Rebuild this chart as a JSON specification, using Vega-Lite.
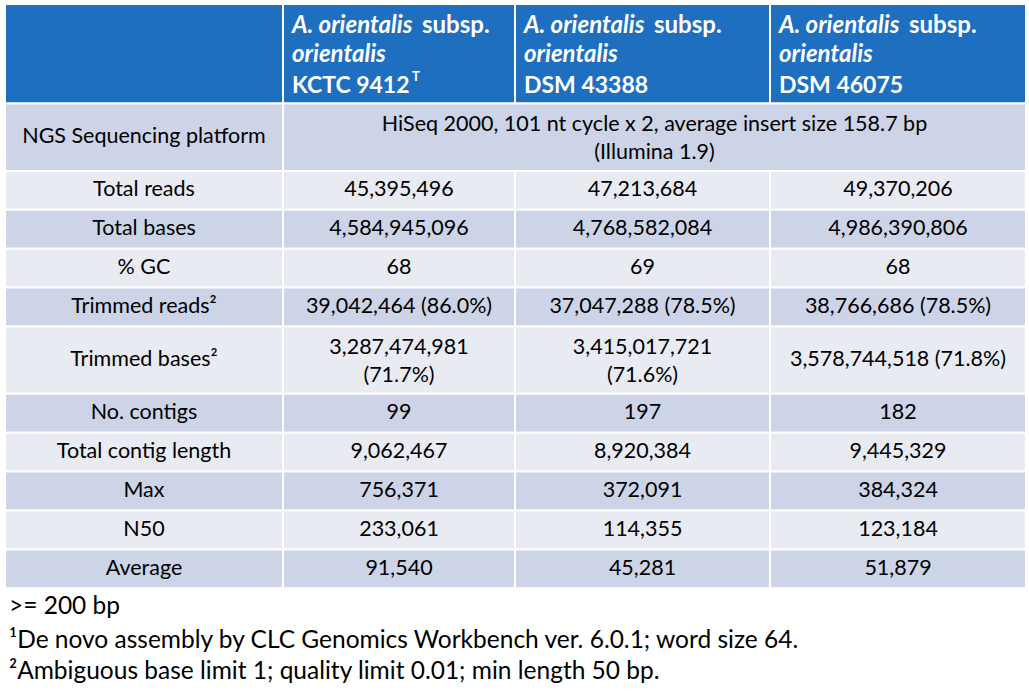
{
  "$schema": "https://vega.github.io/schema/vega-lite/v6.json",
  "width": 1029,
  "height": 691,
  "autosize": {"type": "fit", "contains": "padding"},
  "padding": 0,
  "background": "white",
  "config": {"view": {"stroke": null}, "font": "Lato"},
  "datasets": {
    "cols": [
      {"col": "c0", "x0": 5, "x1": 283},
      {"col": "c1", "x0": 283, "x1": 515},
      {"col": "c2", "x0": 515, "x1": 770},
      {"col": "c3", "x0": 770, "x1": 1026},
      {"col": "c123", "x0": 283, "x1": 1026},
      {"col": "fn", "x0": 9, "x1": 1026}
    ],
    "rows": [
      {"row": "head", "y0": 0, "y1": 2.56, "shade": "h"},
      {"row": "h1", "y0": 0.36, "y1": 0.76, "shade": "n"},
      {"row": "h2", "y0": 1.12, "y1": 1.52, "shade": "n"},
      {"row": "h3", "y0": 1.9, "y1": 2.3, "shade": "n"},
      {"row": "ngs", "y0": 2.56, "y1": 4.29, "shade": "d"},
      {"row": "tr", "y0": 4.29, "y1": 5.29, "shade": "l"},
      {"row": "tb", "y0": 5.29, "y1": 6.29, "shade": "d"},
      {"row": "gc", "y0": 6.29, "y1": 7.29, "shade": "l"},
      {"row": "trr", "y0": 7.29, "y1": 8.29, "shade": "d"},
      {"row": "trb", "y0": 8.29, "y1": 10.02, "shade": "l"},
      {"row": "nc", "y0": 10.02, "y1": 11.02, "shade": "d"},
      {"row": "tcl", "y0": 11.02, "y1": 12.02, "shade": "l"},
      {"row": "max", "y0": 12.02, "y1": 13.02, "shade": "d"},
      {"row": "n50", "y0": 13.02, "y1": 14.02, "shade": "l"},
      {"row": "avg", "y0": 14.02, "y1": 15.02, "shade": "d"},
      {"row": "fn0", "y0": 15.1, "y1": 15.9, "shade": "n"},
      {"row": "fn1", "y0": 15.98, "y1": 16.78, "shade": "n"},
      {"row": "fn2", "y0": 16.78, "y1": 17.56, "shade": "n"}
    ],
    "cells": [
      {"row": "head", "col": "c0", "text": ""},
      {"row": "head", "col": "c1", "text": ""},
      {"row": "head", "col": "c2", "text": ""},
      {"row": "head", "col": "c3", "text": ""},
      {"row": "ngs", "col": "c0", "text": "NGS Sequencing platform"},
      {"row": "ngs", "col": "c123", "text": "HiSeq 2000, 101 nt cycle x 2, average insert size 158.7 bp\n(Illumina 1.9)"},
      {"row": "tr", "col": "c0", "text": "Total reads"},
      {"row": "tr", "col": "c1", "text": "45,395,496"},
      {"row": "tr", "col": "c2", "text": "47,213,684"},
      {"row": "tr", "col": "c3", "text": "49,370,206"},
      {"row": "tb", "col": "c0", "text": "Total bases"},
      {"row": "tb", "col": "c1", "text": "4,584,945,096"},
      {"row": "tb", "col": "c2", "text": "4,768,582,084"},
      {"row": "tb", "col": "c3", "text": "4,986,390,806"},
      {"row": "gc", "col": "c0", "text": "% GC"},
      {"row": "gc", "col": "c1", "text": "68"},
      {"row": "gc", "col": "c2", "text": "69"},
      {"row": "gc", "col": "c3", "text": "68"},
      {"row": "trr", "col": "c0", "text": "Trimmed reads²"},
      {"row": "trr", "col": "c1", "text": "39,042,464 (86.0%)"},
      {"row": "trr", "col": "c2", "text": "37,047,288 (78.5%)"},
      {"row": "trr", "col": "c3", "text": "38,766,686 (78.5%)"},
      {"row": "trb", "col": "c0", "text": "Trimmed bases²"},
      {"row": "trb", "col": "c1", "text": "3,287,474,981\n(71.7%)"},
      {"row": "trb", "col": "c2", "text": "3,415,017,721\n(71.6%)"},
      {"row": "trb", "col": "c3", "text": "3,578,744,518 (71.8%)"},
      {"row": "nc", "col": "c0", "text": "No. contigs"},
      {"row": "nc", "col": "c1", "text": "99"},
      {"row": "nc", "col": "c2", "text": "197"},
      {"row": "nc", "col": "c3", "text": "182"},
      {"row": "tcl", "col": "c0", "text": "Total contig length"},
      {"row": "tcl", "col": "c1", "text": "9,062,467"},
      {"row": "tcl", "col": "c2", "text": "8,920,384"},
      {"row": "tcl", "col": "c3", "text": "9,445,329"},
      {"row": "max", "col": "c0", "text": "Max"},
      {"row": "max", "col": "c1", "text": "756,371"},
      {"row": "max", "col": "c2", "text": "372,091"},
      {"row": "max", "col": "c3", "text": "384,324"},
      {"row": "n50", "col": "c0", "text": "N50"},
      {"row": "n50", "col": "c1", "text": "233,061"},
      {"row": "n50", "col": "c2", "text": "114,355"},
      {"row": "n50", "col": "c3", "text": "123,184"},
      {"row": "avg", "col": "c0", "text": "Average"},
      {"row": "avg", "col": "c1", "text": "91,540"},
      {"row": "avg", "col": "c2", "text": "45,281"},
      {"row": "avg", "col": "c3", "text": "51,879"}
    ],
    "heads": [
      {"row": "h1", "col": "c1", "part": "taxon", "text": "A. orientalis"},
      {"row": "h1", "col": "c1", "part": "subsp", "text": "subsp."},
      {"row": "h2", "col": "c1", "part": "taxon", "text": "orientalis"},
      {"row": "h3", "col": "c1", "part": "strain", "text": "KCTC 9412"},
      {"row": "h3", "col": "c1", "part": "sup", "text": "T"},
      {"row": "h1", "col": "c2", "part": "taxon", "text": "A. orientalis"},
      {"row": "h1", "col": "c2", "part": "subsp", "text": "subsp."},
      {"row": "h2", "col": "c2", "part": "taxon", "text": "orientalis"},
      {"row": "h3", "col": "c2", "part": "strain", "text": "DSM 43388"},
      {"row": "h1", "col": "c3", "part": "taxon", "text": "A. orientalis"},
      {"row": "h1", "col": "c3", "part": "subsp", "text": "subsp."},
      {"row": "h2", "col": "c3", "part": "taxon", "text": "orientalis"},
      {"row": "h3", "col": "c3", "part": "strain", "text": "DSM 46075"}
    ],
    "notes": [
      {"row": "fn0", "col": "fn", "text": ">= 200 bp"},
      {"row": "fn1", "col": "fn", "text": "¹De novo assembly by CLC Genomics Workbench ver. 6.0.1; word size 64."},
      {"row": "fn2", "col": "fn", "text": "²Ambiguous base limit 1; quality limit 0.01; min length 50 bp."}
    ]
  },
  "layer": [
    {
      "data": {"name": "cells"},
      "transform": [
        {"lookup": "col", "from": {"data": {"name": "cols"}, "key": "col", "fields": ["x0", "x1"]}},
        {"lookup": "row", "from": {"data": {"name": "rows"}, "key": "row", "fields": ["y0", "y1", "shade"]}}
      ],
      "mark": {"type": "rect", "stroke": "white", "strokeWidth": 2},
      "encoding": {
        "x": {"field": "x0", "type": "quantitative", "scale": {"domain": [0, 1029], "nice": false, "zero": false}, "axis": null},
        "x2": {"field": "x1"},
        "y": {"field": "y0", "type": "quantitative", "scale": {"domain": [-0.103, 17.66], "reverse": true, "nice": false, "zero": false}, "axis": null},
        "y2": {"field": "y1"},
        "color": {"field": "shade", "type": "nominal", "scale": {"domain": ["h", "d", "l", "n"], "range": ["#1F6FC0", "#CDD4E8", "#E9EBF3", "#FFFFFF"]}, "legend": null}
      }
    },
    {
      "data": {"name": "cells"},
      "transform": [
        {"filter": "datum.row != 'head' && indexof(datum.text, '\\n') < 0"},
        {"lookup": "col", "from": {"data": {"name": "cols"}, "key": "col", "fields": ["x0", "x1"]}},
        {"lookup": "row", "from": {"data": {"name": "rows"}, "key": "row", "fields": ["y0", "y1"]}},
        {"calculate": "(datum.x0 + datum.x1) / 2", "as": "xm"},
        {"calculate": "(datum.y0 + datum.y1) / 2", "as": "ym"}
      ],
      "mark": {"type": "text", "font": "Lato", "fontSize": 21.5, "color": "#000000", "align": "center", "baseline": "middle"},
      "encoding": {
        "x": {"field": "xm", "type": "quantitative", "scale": {"domain": [0, 1029], "nice": false, "zero": false}, "axis": null},
        "y": {"field": "ym", "type": "quantitative", "scale": {"domain": [-0.103, 17.66], "reverse": true, "nice": false, "zero": false}, "axis": null},
        "text": {"field": "text"}
      }
    },
    {
      "data": {"name": "cells"},
      "transform": [
        {"filter": "indexof(datum.text, '\\n') >= 0"},
        {"lookup": "col", "from": {"data": {"name": "cols"}, "key": "col", "fields": ["x0", "x1"]}},
        {"lookup": "row", "from": {"data": {"name": "rows"}, "key": "row", "fields": ["y0", "y1"]}},
        {"calculate": "(datum.x0 + datum.x1) / 2", "as": "xm"},
        {"calculate": "(datum.y0 + datum.y1) / 2", "as": "ym"}
      ],
      "mark": {"type": "text", "font": "Lato", "fontSize": 21.5, "color": "#000000", "align": "center", "baseline": "middle", "lineBreak": "\n", "lineHeight": 28, "dy": -12},
      "encoding": {
        "x": {"field": "xm", "type": "quantitative", "scale": {"domain": [0, 1029], "nice": false, "zero": false}, "axis": null},
        "y": {"field": "ym", "type": "quantitative", "scale": {"domain": [-0.103, 17.66], "reverse": true, "nice": false, "zero": false}, "axis": null},
        "text": {"field": "text"}
      }
    },
    {
      "data": {"name": "heads"},
      "transform": [
        {"filter": "datum.part == 'taxon'"},
        {"lookup": "col", "from": {"data": {"name": "cols"}, "key": "col", "fields": ["x0", "x1"]}},
        {"lookup": "row", "from": {"data": {"name": "rows"}, "key": "row", "fields": ["y0", "y1"]}},
        {"calculate": "(datum.y0 + datum.y1) / 2", "as": "ym"}
      ],
      "mark": {"type": "text", "font": "Lato", "fontSize": 24, "fontWeight": "bold", "fontStyle": "italic", "color": "#FFFFFF", "align": "left", "baseline": "middle", "dx": 9},
      "encoding": {
        "x": {"field": "x0", "type": "quantitative", "scale": {"domain": [0, 1029], "nice": false, "zero": false}, "axis": null},
        "y": {"field": "ym", "type": "quantitative", "scale": {"domain": [-0.103, 17.66], "reverse": true, "nice": false, "zero": false}, "axis": null},
        "text": {"field": "text"}
      }
    },
    {
      "data": {"name": "heads"},
      "transform": [
        {"filter": "datum.part == 'subsp'"},
        {"lookup": "col", "from": {"data": {"name": "cols"}, "key": "col", "fields": ["x0", "x1"]}},
        {"lookup": "row", "from": {"data": {"name": "rows"}, "key": "row", "fields": ["y0", "y1"]}},
        {"calculate": "(datum.y0 + datum.y1) / 2", "as": "ym"}
      ],
      "mark": {"type": "text", "font": "Lato", "fontSize": 24, "fontWeight": "bold", "color": "#FFFFFF", "align": "left", "baseline": "middle", "dx": 139},
      "encoding": {
        "x": {"field": "x0", "type": "quantitative", "scale": {"domain": [0, 1029], "nice": false, "zero": false}, "axis": null},
        "y": {"field": "ym", "type": "quantitative", "scale": {"domain": [-0.103, 17.66], "reverse": true, "nice": false, "zero": false}, "axis": null},
        "text": {"field": "text"}
      }
    },
    {
      "data": {"name": "heads"},
      "transform": [
        {"filter": "datum.part == 'strain'"},
        {"lookup": "col", "from": {"data": {"name": "cols"}, "key": "col", "fields": ["x0", "x1"]}},
        {"lookup": "row", "from": {"data": {"name": "rows"}, "key": "row", "fields": ["y0", "y1"]}},
        {"calculate": "(datum.y0 + datum.y1) / 2", "as": "ym"}
      ],
      "mark": {"type": "text", "font": "Lato", "fontSize": 23, "fontWeight": "bold", "color": "#FFFFFF", "align": "left", "baseline": "middle", "dx": 9},
      "encoding": {
        "x": {"field": "x0", "type": "quantitative", "scale": {"domain": [0, 1029], "nice": false, "zero": false}, "axis": null},
        "y": {"field": "ym", "type": "quantitative", "scale": {"domain": [-0.103, 17.66], "reverse": true, "nice": false, "zero": false}, "axis": null},
        "text": {"field": "text"}
      }
    },
    {
      "data": {"name": "heads"},
      "transform": [
        {"filter": "datum.part == 'sup'"},
        {"lookup": "col", "from": {"data": {"name": "cols"}, "key": "col", "fields": ["x0", "x1"]}},
        {"lookup": "row", "from": {"data": {"name": "rows"}, "key": "row", "fields": ["y0", "y1"]}},
        {"calculate": "(datum.y0 + datum.y1) / 2", "as": "ym"}
      ],
      "mark": {"type": "text", "font": "Lato", "fontSize": 13, "fontWeight": "bold", "color": "#FFFFFF", "align": "left", "baseline": "middle", "dx": 129, "dy": -9},
      "encoding": {
        "x": {"field": "x0", "type": "quantitative", "scale": {"domain": [0, 1029], "nice": false, "zero": false}, "axis": null},
        "y": {"field": "ym", "type": "quantitative", "scale": {"domain": [-0.103, 17.66], "reverse": true, "nice": false, "zero": false}, "axis": null},
        "text": {"field": "text"}
      }
    },
    {
      "data": {"name": "notes"},
      "transform": [
        {"lookup": "col", "from": {"data": {"name": "cols"}, "key": "col", "fields": ["x0", "x1"]}},
        {"lookup": "row", "from": {"data": {"name": "rows"}, "key": "row", "fields": ["y0", "y1"]}},
        {"calculate": "(datum.y0 + datum.y1) / 2", "as": "ym"}
      ],
      "mark": {"type": "text", "font": "Lato", "fontSize": 24.5, "color": "#000000", "align": "left", "baseline": "middle"},
      "encoding": {
        "x": {"field": "x0", "type": "quantitative", "scale": {"domain": [0, 1029], "nice": false, "zero": false}, "axis": null},
        "y": {"field": "ym", "type": "quantitative", "scale": {"domain": [-0.103, 17.66], "reverse": true, "nice": false, "zero": false}, "axis": null},
        "text": {"field": "text"}
      }
    }
  ]
}
